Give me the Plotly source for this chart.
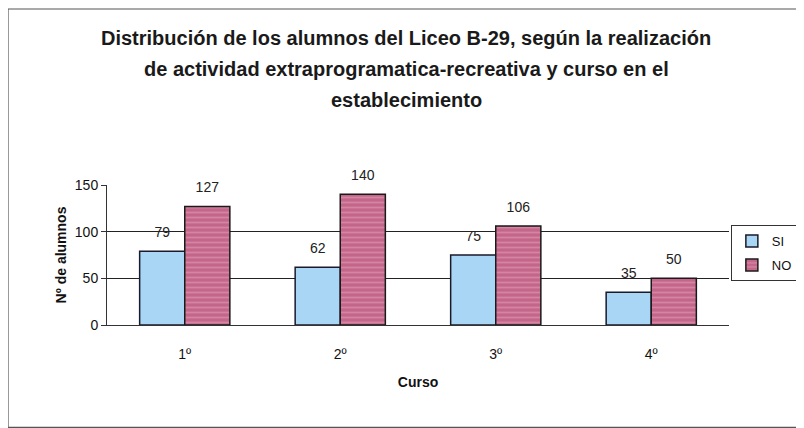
import plotly.graph_objects as go

cursos = ['1º', '2º', '3º', '4º']
si = [79, 62, 75, 35]
no = [127, 140, 106, 50]
y_ticks = [0, 50, 100, 150]
titulo = ['Distribución de los alumnos del Liceo B-29, según la realización',
          'de actividad extraprogramatica-recreativa y curso en el',
          'establecimiento']

fuente = 'Liberation Sans, Arial, sans-serif'

fig = go.Figure()
fig.add_trace(go.Bar(x=cursos, y=si, name='SI', offsetgroup='si', legendgroup='si',
                     marker=dict(color='#a9d6f5', line=dict(color='#1a1a2a', width=1.5))))
fig.add_trace(go.Bar(x=cursos, y=no, name='NO', offsetgroup='no', legendgroup='no',
                     marker=dict(color='#c4668a', line=dict(color='#1a1a1a', width=1.5),
                                 pattern=dict(shape='-', fgcolor='#e6a2ba', size=5, solidity=0.35))))

# etiquetas de valor sobre las barras
for serie, grupo in [(si, 'si'), (no, 'no')]:
    fig.add_trace(go.Scatter(x=cursos, y=serie, mode='markers+text', text=serie,
                             offsetgroup=grupo, textposition='top center',
                             marker=dict(size=16, opacity=0), cliponaxis=False,
                             textfont=dict(size=14, color='#222'),
                             showlegend=False, hoverinfo='skip'))

for i, linea in enumerate(titulo):
    fig.add_annotation(text='<b>' + linea + '</b>', xref='paper', yref='paper',
                       x=(398 - 99) / 622, y=(317 - 30 - 31 * i) / 140,
                       xanchor='center', yanchor='middle',
                       showarrow=False, font=dict(size=20, color='#1a1a1a'))

fig.update_layout(
    width=796, height=420,
    margin=dict(l=99, r=75, t=177, b=103, autoexpand=False),
    paper_bgcolor='white', plot_bgcolor='white',
    font=dict(family=fuente, color='#111'),
    barmode='group', scattermode='group', bargap=0.42, bargroupgap=0,
    legend=dict(x=1.003, y=0.714, xanchor='left', yanchor='top',
                bordercolor='#333', borderwidth=1, font=dict(size=13),
                itemwidth=30, traceorder='grouped', tracegroupgap=4),
    showlegend=True,
)
fig.update_xaxes(title=dict(text='<b>Curso</b>', font=dict(size=14), standoff=16),
                 tickfont=dict(size=14), showline=True, linecolor='#333', linewidth=1,
                 ticks='outside', ticklen=16, tickcolor='rgba(0,0,0,0)')
fig.update_yaxes(title=dict(text='<b>Nº de alumnos</b>', font=dict(size=14), standoff=4),
                 range=[0, 150], tickvals=y_ticks, tickfont=dict(size=14),
                 showgrid=True, gridcolor='#222', gridwidth=1,
                 showline=True, linecolor='#333', linewidth=1,
                 ticks='outside', ticklen=5, tickcolor='#333')

# marco exterior del gráfico
fig.add_shape(type='rect', xref='paper', yref='paper',
              x0=-99 / 622, x1=(796 - 99 - 1) / 622,
              y0=-103 / 140 + 0.004, y1=(317 - 1) / 140,
              line=dict(color='#555', width=1.2))

fig.write_html('out.html')
